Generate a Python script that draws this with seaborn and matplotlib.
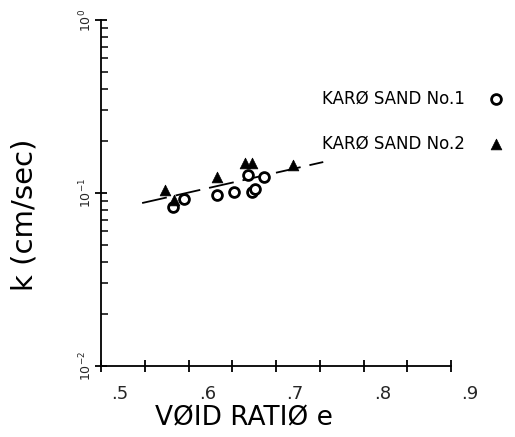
import matplotlib
matplotlib.use("Agg")
import matplotlib.pyplot as plt
import matplotlib.transforms as mtransforms
from matplotlib.ticker import FixedLocator, FixedFormatter, NullFormatter
import seaborn as sns
import pandas as pd

# ---- data ----
sand1_e = [0.582, 0.595, 0.633, 0.652, 0.668, 0.672, 0.676, 0.686]
sand1_k = [0.083, 0.0923, 0.0974, 0.1014, 0.127, 0.101, 0.106, 0.1236]
sand2_e = [0.573, 0.583, 0.633, 0.665, 0.673, 0.719]
sand2_k = [0.104, 0.0912, 0.1236, 0.149, 0.149, 0.145]
fit_e = [0.547, 0.754]
fit_k = [0.0875, 0.151]
series_names = ["KARØ SAND No.1", "KARØ SAND No.2"]
xtick_vals = [0.5, 0.6, 0.7, 0.8, 0.9]
xtick_labels = [".5", ".6", ".7", ".8", ".9"]
xminor_vals = [0.55, 0.65, 0.75, 0.85]
ytick_vals = [0.01, 0.1, 1.0]
ytick_labels = [r"$\mathregular{10^{-2}}$", r"$\mathregular{10^{-1}}$", r"$\mathregular{10^{0}}$"]
x_label = "VØID RATIØ e"
y_label = "k (cm/sec)"

sns.set_theme(style="white")
plt.rcParams["font.family"] = ["DejaVu Sans"]

df = pd.DataFrame({
    "e": sand1_e + sand2_e,
    "k": sand1_k + sand2_k,
    "series": [series_names[0]] * len(sand1_e) + [series_names[1]] * len(sand2_e),
})
fit = pd.DataFrame({"e": fit_e, "k": fit_k})

fig = plt.figure(figsize=(5.15, 4.37), dpi=100)
ax = fig.add_axes([101 / 515, 1 - 366 / 437, 350 / 515, 346 / 437])

sns.lineplot(data=fit, x="e", y="k", ax=ax, color="black", lw=1.3,
             dashes=False, linestyle=(0, (14, 5)), legend=False, zorder=1)

s1 = df[df.series == series_names[0]]
s2 = df[df.series == series_names[1]]
sns.scatterplot(data=s1, x="e", y="k", ax=ax, marker="o", s=50,
                facecolor="white", edgecolor="black", linewidth=2.0,
                label=series_names[0], zorder=3)
sns.scatterplot(data=s2, x="e", y="k", ax=ax, marker="^", s=60,
                color="black", edgecolor="black", linewidth=0.5,
                label=series_names[1], zorder=3)

ax.set_yscale("log")
ax.set_xlim(0.5, 0.9)
ax.set_ylim(0.01, 1.0)

for sp in ["top", "right"]:
    ax.spines[sp].set_visible(False)
for sp in ["left", "bottom"]:
    ax.spines[sp].set_color("black")
    ax.spines[sp].set_linewidth(1.3)

ax.xaxis.set_major_locator(FixedLocator(xtick_vals))
ax.xaxis.set_major_formatter(FixedFormatter(xtick_labels))
ax.xaxis.set_minor_locator(FixedLocator(xminor_vals))
ax.xaxis.set_minor_formatter(NullFormatter())
ax.tick_params(axis="x", which="both", direction="inout", length=8, width=1.3,
               color="black", bottom=True, labelsize=13, pad=10)

ax.yaxis.set_major_locator(FixedLocator(ytick_vals))
ax.yaxis.set_major_formatter(FixedFormatter(ytick_labels))
ax.tick_params(axis="y", which="major", direction="inout", length=8, width=1.3,
               color="black", left=True, labelsize=9, pad=1)
ax.tick_params(axis="y", which="minor", direction="in", length=5, width=1.1,
               color="black", left=True)
for lab in ax.get_yticklabels():
    lab.set_rotation(90)
    lab.set_va("center")

offset = mtransforms.ScaledTranslation(19 / 100, 0, fig.dpi_scale_trans)
for lab in ax.get_xticklabels():
    lab.set_transform(lab.get_transform() + offset)

ax.set_xlabel(x_label, fontsize=19, color="black")
ax.xaxis.set_label_coords((244 - 101) / 350, -(418 - 366) / 346)
ax.xaxis.label.set_va("center")
ax.set_ylabel(y_label, fontsize=21, color="black")
ax.yaxis.set_label_coords((25 - 101) / 350, (366 - 215) / 346)
ax.yaxis.label.set_va("center")

leg = ax.legend(loc="center right", bbox_to_anchor=(504.5 / 515, 1 - 121 / 437),
                bbox_transform=fig.transFigure, frameon=False, markerfirst=False,
                handlelength=1.0, handletextpad=1.4, borderpad=0, borderaxespad=0,
                labelspacing=1.6, prop={"size": 12})
for t in leg.get_texts():
    t.set_color("black")

fig.savefig("out.png", dpi=100)
